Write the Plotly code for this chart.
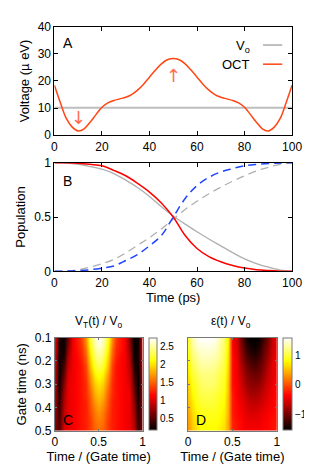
import plotly.graph_objects as go

# ---------------- data ----------------
# Panel A: voltage (µeV) vs time (ps)
time_a = [0, 2.5, 5, 7.5, 10, 12.5, 15, 17.5, 20, 22.5, 25, 27.5, 30, 32.5, 35, 37.5, 40, 42.5, 45, 47.5,
          50, 52.5, 55, 57.5, 60, 62.5, 65, 67.5, 70, 72.5, 75, 77.5, 80, 82.5, 85, 87.5, 90, 92.5, 95, 97.5, 100]
oct_v = [18.4, 12.0, 6.2, 3.0, 1.6, 2.4, 4.8, 7.6, 10.3, 11.9, 12.8, 13.4, 14.0, 15.0, 16.6, 18.8, 21.4, 24.0, 26.3, 27.8,
         28.3, 27.8, 26.3, 24.0, 21.4, 18.8, 16.6, 15.0, 14.0, 13.4, 12.8, 11.9, 10.3, 7.6, 4.8, 2.4, 1.6, 3.0, 6.2, 12.0, 18.4]
time_vo = [0, 100]
vo = [10.1, 10.1]

# Panel B: populations vs time (ps)
time_b = [0, 5, 10, 15, 20, 25, 30, 35, 40, 45, 50, 55, 60, 65, 70, 75, 80, 85, 90, 95, 100]
red_pop = [1, 0.999, 0.995, 0.985, 0.972, 0.93, 0.88, 0.81, 0.73, 0.63, 0.5, 0.33, 0.21, 0.135, 0.088, 0.054, 0.03, 0.015, 0.007, 0.002, 0]
gray_pop = [1, 0.997, 0.985, 0.965, 0.94, 0.9, 0.84, 0.772, 0.69, 0.595, 0.51, 0.435, 0.365, 0.298, 0.235, 0.172, 0.115, 0.072, 0.038, 0.012, 0]
gray_dash = [0, 0.003, 0.015, 0.04, 0.07, 0.11, 0.17, 0.24, 0.31, 0.39, 0.48, 0.57, 0.645, 0.715, 0.775, 0.83, 0.88, 0.925, 0.958, 0.985, 1]
blue_dash = [0, 0.002, 0.006, 0.015, 0.03, 0.05, 0.1, 0.155, 0.235, 0.33, 0.5, 0.67, 0.79, 0.865, 0.915, 0.946, 0.972, 0.985, 0.993, 0.998, 1]

# Panels C, D: maps over normalised time and gate time (ns)
norm_t = [0, 0.05, 0.1, 0.15, 0.2, 0.25, 0.3, 0.35, 0.4, 0.45, 0.5, 0.55, 0.6, 0.65, 0.7, 0.75, 0.8, 0.85, 0.9, 0.95, 1]
gate_t = [0.10, 0.14, 0.18, 0.22, 0.26, 0.30, 0.34, 0.38, 0.42, 0.46, 0.50]
vt_map = [
    [1.15, 0.3, 0.2, 0.6, 1.1, 1.2, 1.35, 1.7, 2.2, 2.6, 2.73, 2.6, 2.2, 1.7, 1.35, 1.2, 1.1, 0.65, 0.2, 0.22, 1.1],
    [1.15, 0.27, 0.22, 0.7, 1.1, 1.2, 1.3, 1.6, 2.1, 2.5, 2.62, 2.5, 2.1, 1.6, 1.3, 1.2, 1.1, 0.72, 0.2, 0.25, 1.05],
    [1.1, 0.23, 0.3, 0.85, 1.1, 1.15, 1.25, 1.5, 1.95, 2.35, 2.48, 2.35, 1.95, 1.5, 1.25, 1.15, 1.1, 0.8, 0.23, 0.25, 1.0],
    [1.05, 0.2, 0.45, 0.92, 1.1, 1.15, 1.2, 1.4, 1.85, 2.2, 2.32, 2.2, 1.85, 1.4, 1.2, 1.15, 1.1, 0.87, 0.32, 0.22, 0.95],
    [1.0, 0.2, 0.58, 1.0, 1.1, 1.15, 1.2, 1.35, 1.7, 2.05, 2.15, 2.05, 1.7, 1.35, 1.2, 1.15, 1.1, 0.93, 0.42, 0.2, 0.9],
    [0.95, 0.23, 0.7, 1.05, 1.1, 1.15, 1.2, 1.3, 1.6, 1.9, 2.0, 1.9, 1.6, 1.3, 1.2, 1.15, 1.1, 1.0, 0.52, 0.2, 0.85],
    [0.9, 0.28, 0.8, 1.05, 1.1, 1.15, 1.2, 1.3, 1.5, 1.8, 1.9, 1.8, 1.5, 1.3, 1.2, 1.15, 1.1, 1.05, 0.62, 0.23, 0.8],
    [0.85, 0.33, 0.85, 1.05, 1.1, 1.15, 1.2, 1.25, 1.45, 1.7, 1.8, 1.7, 1.45, 1.25, 1.2, 1.15, 1.1, 1.05, 0.7, 0.28, 0.75],
    [0.8, 0.38, 0.9, 1.05, 1.1, 1.15, 1.2, 1.25, 1.4, 1.6, 1.7, 1.6, 1.4, 1.25, 1.2, 1.15, 1.1, 1.05, 0.78, 0.33, 0.7],
    [0.75, 0.43, 0.95, 1.05, 1.1, 1.15, 1.2, 1.25, 1.35, 1.55, 1.6, 1.55, 1.35, 1.25, 1.2, 1.15, 1.1, 1.05, 0.84, 0.38, 0.65],
    [0.7, 0.48, 1.0, 1.05, 1.1, 1.15, 1.2, 1.25, 1.35, 1.5, 1.55, 1.5, 1.35, 1.25, 1.2, 1.15, 1.1, 1.05, 0.9, 0.43, 0.6],
]
eps_map = [
    [1.0, 1.35, 1.55, 1.6, 1.6, 1.6, 1.55, 1.4, 1.15, 0.75, -0.35, -0.6, -1.05, -1.45, -1.55, -1.55, -1.5, -1.3, -1.0, -0.65, -0.45],
    [0.95, 1.25, 1.45, 1.5, 1.5, 1.5, 1.45, 1.3, 1.1, 0.7, -0.35, -0.55, -0.95, -1.3, -1.45, -1.5, -1.4, -1.15, -0.9, -0.6, -0.45],
    [0.85, 1.15, 1.3, 1.4, 1.4, 1.4, 1.35, 1.25, 1.05, 0.65, -0.3, -0.5, -0.85, -1.15, -1.3, -1.35, -1.25, -1.05, -0.8, -0.55, -0.4],
    [0.75, 1.05, 1.2, 1.3, 1.3, 1.3, 1.25, 1.15, 1.0, 0.6, -0.3, -0.45, -0.75, -1.0, -1.15, -1.2, -1.1, -0.95, -0.7, -0.5, -0.4],
    [0.7, 0.95, 1.1, 1.2, 1.2, 1.2, 1.15, 1.05, 0.95, 0.55, -0.3, -0.45, -0.65, -0.9, -1.0, -1.05, -1.0, -0.85, -0.62, -0.5, -0.4],
    [0.6, 0.85, 1.0, 1.1, 1.15, 1.15, 1.1, 1.0, 0.9, 0.5, -0.3, -0.4, -0.58, -0.8, -0.88, -0.9, -0.85, -0.72, -0.55, -0.45, -0.35],
    [0.55, 0.8, 0.95, 1.05, 1.05, 1.05, 1.0, 0.95, 0.85, 0.5, -0.25, -0.4, -0.5, -0.68, -0.78, -0.78, -0.72, -0.62, -0.5, -0.4, -0.35],
    [0.5, 0.7, 0.9, 0.95, 1.0, 1.0, 0.95, 0.9, 0.8, 0.45, -0.25, -0.35, -0.45, -0.57, -0.63, -0.66, -0.62, -0.55, -0.45, -0.4, -0.3],
    [0.4, 0.65, 0.8, 0.9, 0.9, 0.9, 0.9, 0.85, 0.75, 0.45, -0.25, -0.35, -0.4, -0.5, -0.55, -0.55, -0.5, -0.45, -0.4, -0.35, -0.3],
    [0.35, 0.6, 0.75, 0.85, 0.85, 0.85, 0.85, 0.8, 0.7, 0.4, -0.2, -0.3, -0.35, -0.45, -0.45, -0.45, -0.45, -0.4, -0.35, -0.3, -0.3],
    [0.3, 0.55, 0.7, 0.8, 0.8, 0.8, 0.8, 0.75, 0.65, 0.4, -0.2, -0.3, -0.35, -0.4, -0.4, -0.4, -0.4, -0.35, -0.35, -0.3, -0.25],
]
ticks_time = [0, 20, 40, 60, 80, 100]
ticks_volt = [0, 10, 20, 30, 40]
ticks_pop = [0, 0.5, 1]
ticks_gate = [0.1, 0.2, 0.3, 0.4, 0.5]
ticks_norm = [0, 0.5, 1]
cb_ticks_c = [0.5, 1, 1.5, 2, 2.5]
cb_ticks_d = [-1, 0, 1]

# ---------------- figure ----------------
W, H = 312, 466
FONT = "Liberation Sans, Arial, sans-serif"
hot = [[0, "rgb(0,0,0)"], [0.375, "rgb(255,0,0)"], [0.75, "rgb(255,255,0)"], [1, "rgb(255,255,255)"]]


def px_x(p):
    return p / W


def px_y(p):
    return 1 - p / H


fig = go.Figure()

# Panel A
fig.add_trace(go.Scatter(x=time_vo, y=vo, mode="lines", line=dict(color="rgb(190,190,190)", width=2),
                         xaxis="x", yaxis="y", showlegend=False))
fig.add_trace(go.Scatter(x=time_a, y=oct_v, mode="lines", line=dict(color="rgb(255,70,20)", width=1.5, shape="spline"),
                         xaxis="x", yaxis="y", showlegend=False))

# Panel B
fig.add_trace(go.Scatter(x=time_b, y=gray_pop, mode="lines", line=dict(color="rgb(175,175,175)", width=1.3, shape="spline"),
                         xaxis="x2", yaxis="y2", showlegend=False))
fig.add_trace(go.Scatter(x=time_b, y=gray_dash, mode="lines",
                         line=dict(color="rgb(175,175,175)", width=1.3, dash="8px,5px", shape="spline"),
                         xaxis="x2", yaxis="y2", showlegend=False))
fig.add_trace(go.Scatter(x=time_b, y=blue_dash, mode="lines",
                         line=dict(color="rgb(30,70,255)", width=1.5, dash="8px,5px", shape="spline"),
                         xaxis="x2", yaxis="y2", showlegend=False))
fig.add_trace(go.Scatter(x=time_b, y=red_pop, mode="lines", line=dict(color="rgb(255,0,0)", width=1.5, shape="spline"),
                         xaxis="x2", yaxis="y2", showlegend=False))

# Panel C
fig.add_trace(go.Heatmap(x=norm_t, y=gate_t, z=vt_map, colorscale=hot, zmin=0.18, zmax=2.73, zsmooth="best",
                         xaxis="x3", yaxis="y3",
                         colorbar=dict(x=px_x(144), xanchor="left", thickness=8, thicknessmode="pixels",
                                       len=95 / H, lenmode="fraction", y=px_y(380.5), yanchor="middle",
                                       outlinewidth=1, outlinecolor="rgb(120,120,120)",
                                       tickvals=cb_ticks_c, ticktext=[str(v) for v in cb_ticks_c],
                                       ticks="", tickfont=dict(size=10, family=FONT, color="black"), xpad=0, ypad=0)))
# Panel D
fig.add_trace(go.Heatmap(x=norm_t, y=gate_t, z=eps_map, colorscale=hot, zmin=-1.55, zmax=1.6, zsmooth="best",
                         xaxis="x4", yaxis="y4",
                         colorbar=dict(x=px_x(283.5), xanchor="left", thickness=9, thicknessmode="pixels",
                                       len=95 / H, lenmode="fraction", y=px_y(380.5), yanchor="middle",
                                       outlinewidth=1, outlinecolor="rgb(120,120,120)",
                                       tickvals=cb_ticks_d, ticktext=["\u22121", "0", "1"],
                                       ticks="", tickfont=dict(size=10, family=FONT, color="black"), xpad=0, ypad=0)))

axis_common = dict(showline=True, mirror="ticks", linecolor="black", linewidth=1, ticks="inside", ticklen=4,
                   tickcolor="black", showgrid=False, zeroline=False,
                   tickfont=dict(size=12, family=FONT, color="black"))
heat_axis = dict(showline=True, mirror="ticks", linecolor="rgb(120,120,120)", linewidth=1, ticks="inside", ticklen=2,
                 tickcolor="rgb(120,120,120)", showgrid=False, zeroline=False,
                 tickfont=dict(size=12, family=FONT, color="black"))

fig.update_layout(
    width=W, height=H, margin=dict(l=0, r=0, t=0, b=0),
    paper_bgcolor="white", plot_bgcolor="white",
    font=dict(family=FONT, color="black", size=12),
    xaxis=dict(domain=[px_x(45.3), px_x(293.3)], range=[0, 100], tickvals=ticks_time, anchor="y", **axis_common),
    yaxis=dict(domain=[px_y(124), px_y(12)], range=[0, 40], tickvals=ticks_volt, anchor="x",
               title=dict(text="Voltage (\u00b5 eV)", font=dict(size=13), standoff=5), **axis_common),
    xaxis2=dict(domain=[px_x(45.3), px_x(293.3)], range=[0, 100], tickvals=ticks_time, anchor="y2",
                title=dict(text="Time (ps)", font=dict(size=13), standoff=1), **axis_common),
    yaxis2=dict(domain=[px_y(264.3), px_y(152.3)], range=[0, 1], tickvals=ticks_pop, ticktext=["0", "0.5", "1"],
                anchor="x2", title=dict(text="Population", font=dict(size=13), standoff=5), **axis_common),
    xaxis3=dict(domain=[px_x(45.7), px_x(137.3)], range=[0, 1], tickvals=ticks_norm, ticktext=["0", "0.5", "1"],
                anchor="y3", title=dict(text="Time / (Gate time)", font=dict(size=13), standoff=1), **heat_axis),
    yaxis3=dict(domain=[px_y(428.7), px_y(332.7)], range=[0.5, 0.1], tickvals=ticks_gate,
                ticktext=["0.1", "0.2", "0.3", "0.4", "0.5"], anchor="x3",
                title=dict(text="Gate time (ns)", font=dict(size=13), standoff=5), **heat_axis),
    xaxis4=dict(domain=[px_x(184.7), px_x(277.3)], range=[0, 1], tickvals=ticks_norm, ticktext=["0", "0.5", "1"],
                anchor="y4", title=dict(text="Time / (Gate time)", font=dict(size=13), standoff=1), **heat_axis),
    yaxis4=dict(domain=[px_y(428.7), px_y(332.7)], range=[0.5, 0.1], tickvals=ticks_gate, showticklabels=False,
                anchor="x4", **heat_axis),
)

annotations = [
    dict(text="A", x=px_x(52), y=px_y(29), xref="paper", yref="paper", xanchor="left", yanchor="middle",
         showarrow=False, font=dict(size=14)),
    dict(text="B", x=px_x(52), y=px_y(171), xref="paper", yref="paper", xanchor="left", yanchor="middle",
         showarrow=False, font=dict(size=14)),
    dict(text="C", x=px_x(52), y=px_y(418), xref="paper", yref="paper", xanchor="left", yanchor="middle",
         showarrow=False, font=dict(size=14)),
    dict(text="D", x=px_x(191), y=px_y(418), xref="paper", yref="paper", xanchor="left", yanchor="middle",
         showarrow=False, font=dict(size=14)),
    dict(text="V<sub>o</sub>", x=px_x(251), y=px_y(32), xref="paper", yref="paper", xanchor="right",
         yanchor="middle", showarrow=False, font=dict(size=13)),
    dict(text="OCT", x=px_x(251), y=px_y(50.7), xref="paper", yref="paper", xanchor="right",
         yanchor="middle", showarrow=False, font=dict(size=13)),
    dict(text="\u2193", x=10, y=6.5, xref="x", yref="y", showarrow=False,
         font=dict(size=18, color="rgb(255,110,80)", family="DejaVu Sans")),
    dict(text="\u2191", x=50, y=22, xref="x", yref="y", showarrow=False,
         font=dict(size=18, color="rgb(255,110,80)", family="DejaVu Sans")),
    dict(text="V<sub>T</sub>(t) / V<sub>o</sub>", x=px_x(91), y=px_y(317), xref="paper", yref="paper",
         xanchor="center", yanchor="middle", showarrow=False, font=dict(size=12)),
    dict(text="\u03b5(t) / V<sub>o</sub>", x=px_x(230), y=px_y(317), xref="paper", yref="paper",
         xanchor="center", yanchor="middle", showarrow=False, font=dict(size=12)),
]
fig.update_layout(annotations=annotations)

fig.update_layout(shapes=[
    dict(type="line", xref="paper", yref="paper", x0=px_x(263), x1=px_x(283), y0=px_y(31), y1=px_y(31),
         line=dict(color="rgb(190,190,190)", width=2)),
    dict(type="line", xref="paper", yref="paper", x0=px_x(263), x1=px_x(283), y0=px_y(50.7), y1=px_y(50.7),
         line=dict(color="rgb(255,70,20)", width=1.5)),
])

fig.write_html("out.html")
